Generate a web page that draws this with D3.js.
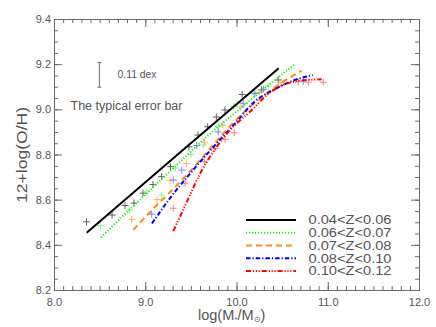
<!DOCTYPE html>
<html>
<head>
<meta charset="utf-8">
<script src="https://cdn.jsdelivr.net/npm/d3@7"></script>
<style>
html,body{margin:0;padding:0;background:#fff;}
svg{display:block;}
text{font-family:"Liberation Sans",Arial,sans-serif;fill:#555;}
</style>
</head>
<body>
<svg id="chart" width="436" height="327"></svg>
<script>
// ---------- data ----------
const seriesLabels = ["0.04<Z<0.06","0.06<Z<0.07","0.07<Z<0.08","0.08<Z<0.10","0.10<Z<0.12"];
const lineColors = ["#000000","#22ee22","#ff8c1a","#0000ff","#ff0000"];
const crossColors = ["#606060","#7dff7d","#ffae66","#7f7fff","#ff7f7f"];

// fitted relations (x = log M*, y = 12+log(O/H))
const fit1X = [8.358, 9.4, 10.462];
const fit1Y = [8.454, 8.815, 9.182];
const fit2X = [8.515, 8.8, 9.1, 9.4, 9.673, 10.0, 10.3, 10.641];
const fit2Y = [8.433, 8.545, 8.66, 8.775, 8.879, 8.99, 9.09, 9.201];
const fit3X = [8.869, 9.1, 9.3, 9.5, 9.75, 10.0, 10.25, 10.5, 10.714];
const fit3Y = [8.466, 8.565, 8.645, 8.73, 8.845, 8.955, 9.045, 9.12, 9.17];
const fit4X = [9.074, 9.25, 9.5, 9.75, 10.0, 10.2, 10.4, 10.6, 10.835];
const fit4Y = [8.495, 8.595, 8.72, 8.835, 8.945, 9.035, 9.085, 9.124, 9.152];
const fit5X = [9.307, 9.45, 9.6, 9.75, 9.9, 10.05, 10.15, 10.33, 10.5, 10.66, 10.8, 10.934];
const fit5Y = [8.461, 8.585, 8.715, 8.815, 8.895, 8.955, 8.99, 9.062, 9.106, 9.125, 9.131, 9.133];

// binned medians (crosses)
const pts1X = [8.356, 8.636, 8.778, 8.877, 8.975, 9.085, 9.18, 9.277, 9.479, 9.578, 9.684, 9.779, 9.874, 10.062, 10.276, 10.458];
const pts1Y = [8.502, 8.532, 8.574, 8.585, 8.629, 8.667, 8.702, 8.746, 8.834, 8.886, 8.923, 8.966, 8.997, 9.066, 9.086, 9.13];
const pts2X = [8.51, 8.825, 9.016, 9.18, 9.33, 9.5, 9.636, 9.8, 9.97, 10.184, 10.348];
const pts2Y = [8.485, 8.554, 8.635, 8.62, 8.74, 8.8, 8.842, 8.925, 9.013, 9.074, 9.103];
const pts3X = [8.852, 9.13, 9.271, 9.45, 9.65, 9.85, 10.05, 10.25, 10.488];
const pts3Y = [8.513, 8.6, 8.684, 8.76, 8.855, 8.93, 9.01, 9.075, 9.118];
const pts4X = [9.071, 9.307, 9.4, 9.564, 9.8, 10.074, 10.2, 10.294, 10.732];
const pts4Y = [8.536, 8.687, 8.731, 8.84, 8.9, 9.027, 9.07, 9.089, 9.125];
const pts5X = [9.307, 9.436, 9.647, 9.764, 9.874, 9.976, 10.677, 10.787, 10.951];
const pts5Y = [8.562, 8.672, 8.768, 8.827, 8.867, 8.896, 9.122, 9.12, 9.12];

// typical error bar
const errX = 8.497, errY = 9.153, errHalf = 0.055;

// axis ticks
const xMajor = [8, 9, 10, 11, 12];
const yMajor = [8.2, 8.4, 8.6, 8.8, 9.0, 9.2, 9.4];

// ---------- drawing ----------
const svg = d3.select("#chart");
const L = 54, R = 419, T = 19, B = 290;
const x = d3.scaleLinear().domain([8, 12]).range([L, R]);
const y = d3.scaleLinear().domain([8.2, 9.4]).range([B, T]);
const axisCol = "#6a6a6a";

const xMinor = d3.range(80, 121, 1).map(d => d / 10);
const yMinor = d3.range(164, 189, 1).map(d => d / 20);

function styleAxis(g) {
  g.select(".domain").attr("stroke", axisCol).attr("stroke-width", 1);
  g.selectAll(".tick line").attr("stroke", axisCol);
  g.selectAll(".tick text").attr("fill", "#555").style("font-size", "11px")
   .style("font-family", "'Liberation Sans',Arial,sans-serif");
}

// minor ticks
svg.append("g").attr("transform", `translate(0,${B})`)
  .call(d3.axisBottom(x).tickValues(xMinor).tickSize(-4).tickFormat(""))
  .call(styleAxis);
svg.append("g").attr("transform", `translate(0,${T})`)
  .call(d3.axisTop(x).tickValues(xMinor).tickSize(-4).tickFormat(""))
  .call(styleAxis);
svg.append("g").attr("transform", `translate(${L},0)`)
  .call(d3.axisLeft(y).tickValues(yMinor).tickSize(-4).tickFormat(""))
  .call(styleAxis);
svg.append("g").attr("transform", `translate(${R},0)`)
  .call(d3.axisRight(y).tickValues(yMinor).tickSize(-4).tickFormat(""))
  .call(styleAxis);
// major ticks
svg.append("g").attr("transform", `translate(0,${B})`)
  .call(d3.axisBottom(x).tickValues(xMajor).tickSize(-8).tickPadding(8).tickFormat(d3.format(".1f")))
  .call(styleAxis);
svg.append("g").attr("transform", `translate(0,${T})`)
  .call(d3.axisTop(x).tickValues(xMajor).tickSize(-8).tickFormat(""))
  .call(styleAxis);
svg.append("g").attr("transform", `translate(${L},0)`)
  .call(d3.axisLeft(y).tickValues(yMajor).tickSize(-8).tickPadding(3).tickFormat(d3.format(".1f")))
  .call(styleAxis);
svg.append("g").attr("transform", `translate(${R},0)`)
  .call(d3.axisRight(y).tickValues(yMajor).tickSize(-8).tickFormat(""))
  .call(styleAxis);

// axis titles
svg.append("text")
  .attr("transform", `translate(27,155) rotate(-90)`)
  .attr("text-anchor", "middle")
  .style("font-size", "15px")
  .attr("textLength", 96).attr("lengthAdjust", "spacingAndGlyphs")
  .text("12+log(O/H)");

const xt = svg.append("text").attr("x", 198).attr("y", 319.5).style("font-size", "14.5px");
xt.append("tspan").text("log(M");
xt.append("tspan").attr("dy", 2).style("font-size", "8px").text("*");
xt.append("tspan").attr("dy", -2).text("/M");
xt.append("tspan").attr("dy", 2).style("font-size", "8px").text("\u2299");
xt.append("tspan").attr("dy", -2).text(")");

// error bar annotation
const eb = svg.append("g").attr("stroke", "#707070").attr("stroke-width", 1);
eb.append("line").attr("x1", x(errX)).attr("x2", x(errX)).attr("y1", y(errY - errHalf)).attr("y2", y(errY + errHalf));
eb.append("line").attr("x1", x(errX) - 2).attr("x2", x(errX) + 2).attr("y1", y(errY - errHalf)).attr("y2", y(errY - errHalf));
eb.append("line").attr("x1", x(errX) - 2).attr("x2", x(errX) + 2).attr("y1", y(errY + errHalf)).attr("y2", y(errY + errHalf));
svg.append("text").attr("x", 117.5).attr("y", 77.8).style("font-size", "10px")
  .attr("textLength", 39).attr("lengthAdjust", "spacingAndGlyphs").text("0.11 dex");
svg.append("text").attr("x", 70.5).attr("y", 109.5).style("font-size", "12.5px")
  .attr("textLength", 112).attr("lengthAdjust", "spacingAndGlyphs").text("The typical error bar");

// crosses
const ptsX = [pts1X, pts2X, pts3X, pts4X, pts5X];
const ptsY = [pts1Y, pts2Y, pts3Y, pts4Y, pts5Y];
const cs = 3.5;
ptsX.forEach((xs, i) => {
  const data = xs.map((v, j) => [v, ptsY[i][j]]);
  svg.append("g").selectAll("path").data(data).join("path")
    .attr("d", d => `M${x(d[0]) - cs},${y(d[1])}H${x(d[0]) + cs}M${x(d[0])},${y(d[1]) - cs}V${y(d[1]) + cs}`)
    .attr("stroke", crossColors[i]).attr("stroke-width", 1).attr("fill", "none");
});

// fitted lines
const fitX = [fit1X, fit2X, fit3X, fit4X, fit5X];
const fitY = [fit1Y, fit2Y, fit3Y, fit4Y, fit5Y];
const dashes = [null, "1.2,1.8", "6,4", "4.5,2,1.2,2", "5,2,1.2,1.6,1.2,1.6,1.2,2"];
const widths = [2, 2, 2, 2, 2];
const lineGen = d3.line().x(d => x(d[0])).y(d => y(d[1])).curve(d3.curveMonotoneX);
fitX.forEach((xs, i) => {
  const data = xs.map((v, j) => [v, fitY[i][j]]);
  svg.append("path").datum(data).attr("d", lineGen)
    .attr("fill", "none").attr("stroke", lineColors[i]).attr("stroke-width", widths[i])
    .attr("stroke-dasharray", dashes[i]);
});

// legend
const lg = svg.append("g");
seriesLabels.forEach((s, i) => {
  const yy = 220 + i * 12.75;
  lg.append("line").attr("x1", 246).attr("x2", 296).attr("y1", yy).attr("y2", yy)
    .attr("stroke", lineColors[i]).attr("stroke-width", widths[i]).attr("stroke-dasharray", dashes[i]);
  lg.append("text").attr("x", 308.5).attr("y", yy).attr("dy", "0.36em")
    .style("font-size", "12px").attr("textLength", 83).attr("lengthAdjust", "spacingAndGlyphs").text(s);
});
</script>
</body>
</html>
